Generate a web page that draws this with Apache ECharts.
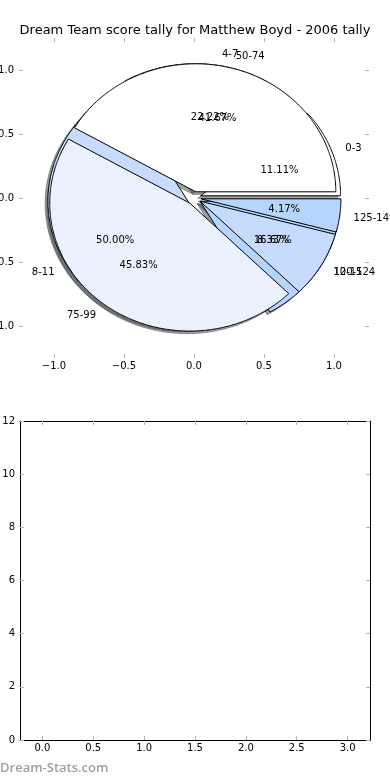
<!DOCTYPE html>
<html><head><meta charset="utf-8">
<script src="https://cdn.jsdelivr.net/npm/echarts@6/dist/echarts.min.js"></script>
<style>html,body{margin:0;padding:0;background:#fff;}#c{width:390px;height:780px;}</style>
</head><body><div id="c"></div>
<script>
// ---- data ----
const titleText = 'Dream Team score tally for Matthew Boyd - 2006 tally';
const categoriesInner = ['0-3', '4-7', '8-11', '12-15'];
const percentsInner = [11.11, 22.22, 50.00, 16.67];
const categoriesOuter = ['50-74', '75-99', '100-124', '125-149'];
const percentsOuter = [41.67, 45.83, 8.33, 4.17];
const pieTicks = [-1, -0.5, 0, 0.5, 1];
const emptyXTicks = [0, 0.5, 1, 1.5, 2, 2.5, 3];
const watermarkText = 'Dream-Stats.com';

// ---- style ----
const sliceColors = ['#ffffff', '#ebf2fd', '#c6dbfd', '#b4d5fe'];
const EXPLODE = 0.05;
const SHADOW_OFF = -0.02;
const FONT = 'DejaVu Sans';
const TICK_COLOR = '#b4b4b4';

function buildSlices(percents) {
  const total = percents.reduce((a, b) => a + b, 0);
  let acc = 0;
  return percents.map(p => {
    const t1 = acc / total * 2 * Math.PI;
    acc += p;
    const t2 = acc / total * 2 * Math.PI;
    const mid = (t1 + t2) / 2;
    return { t1, t2, mid, cx: EXPLODE * Math.cos(mid), cy: EXPLODE * Math.sin(mid) };
  });
}
const slicesInner = buildSlices(percentsInner);
const slicesOuter = buildSlices(percentsOuter);

function wedgePoints(api, s, dx, dy) {
  const cx = s.cx + dx, cy = s.cy + dy;
  const pts = [api.coord([cx, cy])];
  const n = Math.max(2, Math.ceil((s.t2 - s.t1) / (Math.PI / 360)));
  for (let k = 0; k <= n; k++) {
    const a = s.t1 + (s.t2 - s.t1) * k / n;
    pts.push(api.coord([cx + Math.cos(a), cy + Math.sin(a)]));
  }
  return pts;
}

function shadowColor(hex) {
  const r = parseInt(hex.slice(1, 3), 16), g = parseInt(hex.slice(3, 5), 16), b = parseInt(hex.slice(5, 7), 16);
  return 'rgb(' + Math.round(r * 0.3) + ',' + Math.round(g * 0.3) + ',' + Math.round(b * 0.3) + ')';
}

function wedgeSeries(slices, z, isShadow) {
  return {
    type: 'custom', coordinateSystem: 'cartesian2d', xAxisIndex: 0, yAxisIndex: 0,
    silent: true, animation: false, z: z, clip: false,
    data: slices.map((s, i) => [0, 0, i]),
    encode: { x: 0, y: 1 },
    renderItem: (params, api) => {
      const i = params.dataIndex;
      const s = slices[i];
      const col = sliceColors[i % sliceColors.length];
      if (isShadow) {
        const sc = shadowColor(col);
        return { type: 'polygon', shape: { points: wedgePoints(api, s, SHADOW_OFF, SHADOW_OFF) },
          style: { fill: sc, stroke: sc, lineWidth: 1, opacity: 0.5 } };
      }
      return { type: 'polygon', shape: { points: wedgePoints(api, s, 0, 0) },
        style: { fill: col, stroke: '#000', lineWidth: 1 } };
    }
  };
}

function labelSeries(slices, cats, percents, z) {
  return {
    type: 'custom', coordinateSystem: 'cartesian2d', xAxisIndex: 0, yAxisIndex: 0,
    silent: true, animation: false, z: z, clip: false,
    data: slices.map((s, i) => [0, 0, i]),
    encode: { x: 0, y: 1 },
    renderItem: (params, api) => {
      const i = params.dataIndex;
      const s = slices[i];
      const xt = s.cx + 1.1 * Math.cos(s.mid), yt = s.cy + 1.1 * Math.sin(s.mid);
      const xp = s.cx + 0.6 * Math.cos(s.mid), yp = s.cy + 0.6 * Math.sin(s.mid);
      const pl = api.coord([xt, yt]);
      const pp = api.coord([xp, yp]);
      return { type: 'group', children: [
        { type: 'text', x: pl[0], y: pl[1] + 1, style: { text: cats[i], fill: '#000', font: '10px "' + FONT + '"',
          align: xt > 0 ? 'left' : 'right', verticalAlign: 'middle' } },
        { type: 'text', x: pp[0], y: pp[1] + 1, style: { text: percents[i].toFixed(2) + '%', fill: '#000', font: '10px "' + FONT + '"',
          align: 'center', verticalAlign: 'middle' } }
      ] };
    }
  };
}

const fmt1 = v => (v < 0 ? '\u2212' : '') + Math.abs(v).toFixed(1);

function valAxis(opts) {
  const o = {
    type: 'value', gridIndex: opts.grid, position: opts.position, min: opts.min, max: opts.max,
    axisLine: { show: opts.line, onZero: false, lineStyle: { color: '#000', width: 1 } },
    axisTick: { show: true, inside: true, length: 4, lineStyle: { color: TICK_COLOR, width: 1 } },
    axisLabel: { show: opts.labels, fontFamily: FONT, fontSize: 10, color: '#000', margin: opts.margin || 4, formatter: opts.formatter, showMinLabel: true, showMaxLabel: true, hideOverlap: false },
    splitLine: { show: false }
  };
  if (opts.ticks) {
    o.axisTick.customValues = opts.ticks;
    o.axisLabel.customValues = opts.ticks;
  } else {
    o.interval = opts.interval;
  }
  return o;
}

const chart = echarts.init(document.getElementById('c'), null, { renderer: 'canvas' });
chart.setOption({
  backgroundColor: '#fff',
  animation: false,
  grid: [
    { left: 19, right: 21, top: 38, height: 320, outerBoundsMode: 'none', containLabel: false },
    { left: 20, right: 20, top: 421, height: 319, outerBoundsMode: 'none', containLabel: false }
  ],
  xAxis: [
    valAxis({ grid: 0, position: 'bottom', min: -1.25, max: 1.25, line: false, labels: true, ticks: pieTicks, formatter: fmt1, margin: 3 }),
    valAxis({ grid: 0, position: 'top', min: -1.25, max: 1.25, line: false, labels: false, ticks: pieTicks }),
    valAxis({ grid: 1, position: 'bottom', min: -0.22, max: 3.22, line: true, labels: true, ticks: emptyXTicks, formatter: fmt1, margin: 3 }),
    valAxis({ grid: 1, position: 'top', min: -0.22, max: 3.22, line: true, labels: false, ticks: emptyXTicks })
  ],
  yAxis: [
    valAxis({ grid: 0, position: 'left', min: -1.25, max: 1.25, line: false, labels: true, ticks: pieTicks, formatter: fmt1, margin: 5 }),
    valAxis({ grid: 0, position: 'right', min: -1.25, max: 1.25, line: false, labels: false, ticks: pieTicks }),
    valAxis({ grid: 1, position: 'left', min: 0, max: 12, interval: 2, line: true, labels: true, formatter: v => String(v), margin: 5 }),
    valAxis({ grid: 1, position: 'right', min: 0, max: 12, interval: 2, line: true, labels: false })
  ],
  graphic: [
    { type: 'text', left: 'center', top: 24, style: { text: titleText, fill: '#000', font: '13px "' + FONT + '"' } },
    { type: 'text', left: 0, top: 762, style: { text: watermarkText, fill: '#a0a0a0', font: '600 13px "Open Sans"' } }
  ],
  series: [
    wedgeSeries(slicesInner, 1, true),
    wedgeSeries(slicesOuter, 1, true),
    wedgeSeries(slicesInner, 2, false),
    wedgeSeries(slicesOuter, 3, false),
    labelSeries(slicesInner, categoriesInner, percentsInner, 4),
    labelSeries(slicesOuter, categoriesOuter, percentsOuter, 4)
  ]
});
</script>
</body></html>
